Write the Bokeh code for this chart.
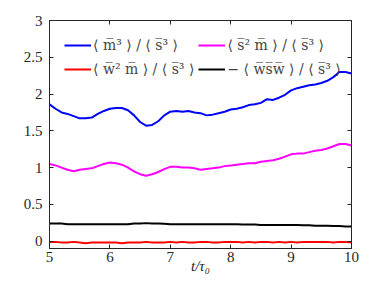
from bokeh.plotting import figure
from bokeh.models import Legend, LegendItem, LinearAxis, FixedTicker, Range1d
from bokeh.embed import file_html
from bokeh.resources import INLINE

t = [round(5.0 + 0.1 * i, 1) for i in range(51)]

m3 = [1.86, 1.80, 1.75, 1.73, 1.70, 1.67, 1.67, 1.68, 1.73, 1.77,
      1.80, 1.81, 1.81, 1.78, 1.71, 1.62, 1.57, 1.58, 1.63, 1.71,
      1.76, 1.77, 1.76, 1.77, 1.75, 1.74, 1.71, 1.72, 1.74, 1.76,
      1.79, 1.80, 1.82, 1.85, 1.86, 1.88, 1.93, 1.92, 1.95, 1.99,
      2.05, 2.08, 2.10, 2.12, 2.13, 2.15, 2.18, 2.23, 2.30, 2.30, 2.28]
s2m = [1.05, 1.03, 1.00, 0.97, 0.95, 0.97, 0.98, 0.99, 1.02, 1.05,
       1.07, 1.06, 1.04, 1.00, 0.95, 0.91, 0.89, 0.91, 0.94, 0.98,
       1.01, 1.01, 1.00, 1.00, 0.99, 0.97, 0.98, 0.99, 1.00, 1.02,
       1.03, 1.04, 1.05, 1.06, 1.06, 1.08, 1.09, 1.10, 1.12, 1.15,
       1.18, 1.19, 1.19, 1.21, 1.23, 1.24, 1.26, 1.29, 1.32, 1.32, 1.30]
w2m = [-0.01, -0.01, -0.02, -0.02, -0.01, -0.02, -0.03, -0.02, -0.02, -0.02,
       -0.02, -0.02, -0.03, -0.02, -0.02, -0.02, -0.01, -0.02, -0.02, -0.02,
       -0.01, -0.02, -0.01, -0.02, -0.02, -0.01, -0.01, -0.02, -0.02, -0.01,
       -0.01, -0.01, -0.02, -0.01, -0.02, -0.01, -0.01, -0.02, -0.01, -0.02,
       -0.01, -0.02, -0.01, -0.01, -0.01, -0.01, -0.01, -0.02, -0.01, -0.01, -0.02]
wsw = [0.24, 0.24, 0.24, 0.23, 0.23, 0.23, 0.23, 0.23, 0.23, 0.23,
       0.23, 0.23, 0.23, 0.23, 0.24, 0.24, 0.245, 0.24, 0.24, 0.235,
       0.23, 0.23, 0.23, 0.23, 0.23, 0.23, 0.23, 0.23, 0.23, 0.23,
       0.23, 0.23, 0.225, 0.225, 0.225, 0.22, 0.22, 0.22, 0.22, 0.22,
       0.22, 0.22, 0.215, 0.215, 0.21, 0.21, 0.21, 0.205, 0.205, 0.20, 0.20]

labels = ["⟨ m\u0305³ ⟩ / ⟨ s\u0305³ ⟩",
          "⟨ w\u0305² m\u0305 ⟩ / ⟨ s\u0305³ ⟩",
          "⟨ s\u0305² m\u0305 ⟩ / ⟨ s\u0305³ ⟩",
          "− ⟨ w\u0305s\u0305w\u0305 ⟩ / ⟨ s\u0305³ ⟩"]
x_label = "t/τ₀"
x_ticks = [5, 6, 7, 8, 9, 10]
y_ticks = [0, 0.5, 1, 1.5, 2, 2.5, 3]

FONT = "Liberation Serif"
LFONT = "DejaVu Serif"
INK = "#262626"

p = figure(width=374, height=277, output_backend="svg", toolbar_location=None,
           x_range=Range1d(5, 10), y_range=Range1d(-0.1, 3),
           min_border_left=49, min_border_right=23, min_border_top=20, min_border_bottom=29)
p.background_fill_color = "white"
p.border_fill_color = "white"
p.grid.visible = False
p.outline_line_color = INK
p.outline_line_width = 1

r1 = p.line(t, m3, line_color="#0000ff", line_width=2)
r2 = p.line(t, s2m, line_color="#ff00ff", line_width=2)
r3 = p.line(t, w2m, line_color="#ff0000", line_width=2)
r4 = p.line(t, wsw, line_color="black", line_width=2)

for ax in (p.xaxis[0], p.yaxis[0]):
    ax.major_tick_in = 4
    ax.major_tick_out = 0
    ax.minor_tick_line_color = None
    ax.axis_line_color = INK
    ax.major_tick_line_color = INK
    ax.major_label_text_font = FONT
    ax.major_label_text_font_size = "15px"
    ax.major_label_text_color = INK
p.xaxis[0].ticker = FixedTicker(ticks=x_ticks)
p.yaxis[0].ticker = FixedTicker(ticks=y_ticks)
p.xaxis[0].major_label_standoff = 3
p.yaxis[0].major_label_standoff = 7
p.xaxis[0].axis_label = x_label
p.xaxis[0].axis_label_text_font = FONT
p.xaxis[0].axis_label_text_font_style = "italic"
p.xaxis[0].axis_label_text_font_size = "15px"
p.xaxis[0].axis_label_text_color = INK
p.xaxis[0].axis_label_standoff = -7

for loc, ticks in (("above", x_ticks), ("right", y_ticks)):
    ax = LinearAxis(ticker=FixedTicker(ticks=ticks), major_tick_in=4, major_tick_out=0,
                    minor_tick_line_color=None,
                    major_label_overrides={tk: "" for tk in ticks},
                    major_label_standoff=0, axis_line_color=INK,
                    major_tick_line_color=INK)
    p.add_layout(ax, loc)

legend = Legend(items=[LegendItem(label=labels[0], renderers=[r1]),
                       LegendItem(label=labels[1], renderers=[r3]),
                       LegendItem(label=labels[2], renderers=[r2]),
                       LegendItem(label=labels[3], renderers=[r4])],
                location="top_left", ncols=2, border_line_color=None,
                background_fill_alpha=0, label_text_font=LFONT,
                label_text_font_size="14px", glyph_width=27, glyph_height=16,
                label_height=20, spacing=4, margin=15, padding=0, label_standoff=2)
p.add_layout(legend)

open("out.html", "w").write(file_html(p, INLINE))
